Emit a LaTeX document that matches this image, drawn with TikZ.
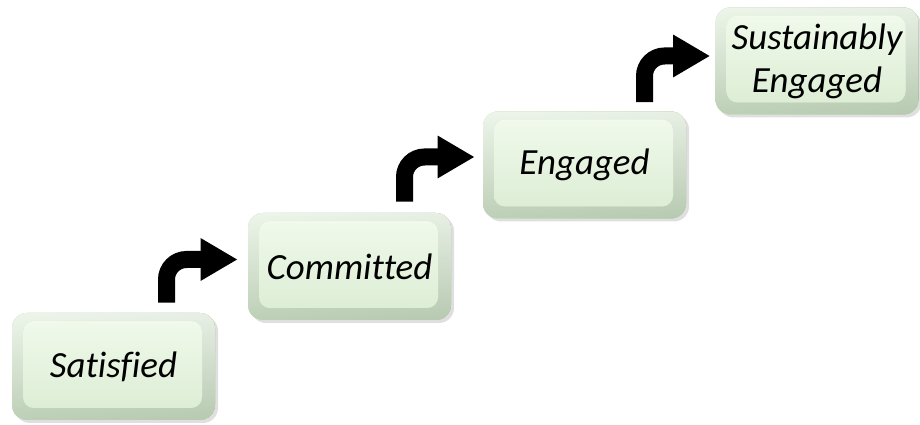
\documentclass[tikz,border=0pt]{standalone}
\usepackage{fontspec}
\setmainfont{Carlito}[Ligatures=NoCommon]
\usetikzlibrary{arrows.meta,shadows}

\definecolor{faceTop}{HTML}{F0F9EB}
\definecolor{faceBot}{HTML}{DDEED5}
\definecolor{rimLeft}{HTML}{D2E3CB}
\definecolor{rimRight}{HTML}{8A9F85}
\definecolor{rimTop}{HTML}{FAFEF8}

\tikzset{
  stepbox/.style={rounded corners=0.3cm, minimum width=4.06cm, minimum height=2.14cm,
    inner sep=0pt, align=center, fill=rimLeft,
    font=\fontsize{21}{24.5}\selectfont\itshape,
    drop shadow={opacity=0.25, shadow xshift=0.06cm, shadow yshift=-0.06cm},
    path picture={
      % darker rim towards the right and bottom
      \fill[left color=rimLeft, right color=rimRight]
        (path picture bounding box.south west) rectangle (path picture bounding box.north east);
      \fill[top color=rimTop, bottom color=rimLeft!60!rimRight, opacity=0.7]
        (path picture bounding box.south west) rectangle (path picture bounding box.north east);
      \fill[rounded corners=0.22cm, top color=faceTop, bottom color=faceBot]
        ([shift={(0.22cm,-0.16cm)}]path picture bounding box.north west) rectangle
        ([shift={(-0.26cm,0.24cm)}]path picture bounding box.south east);
    }},
  stairarrow/.style={line width=0.34cm, rounded corners=0.4cm,
    -{Triangle[width=0.8cm,length=0.74cm]}}
}

\begin{document}
\begin{tikzpicture}
    \useasboundingbox (0,0) rectangle (18.4,8.5);

    % the four steps
    \node[stepbox] (sat) at (2.27,1.17) {Satisfied};
    \node[stepbox] (com) at (6.99,3.17) {Committed};
    \node[stepbox] (eng) at (11.69,5.2) {Engaged};
    \node[stepbox] (sus) at (16.34,7.28) {Sustainably\\Engaged};

    % turn arrows between them
    \draw[stairarrow] ([xshift=1.06cm,yshift=0.2cm]sat.north) |- ([xshift=-0.2cm,yshift=0.14cm]com.west);
    \draw[stairarrow] ([xshift=1.1cm,yshift=0.22cm]com.north) |- ([xshift=-0.16cm,yshift=0.16cm]eng.west);
    \draw[stairarrow] ([xshift=1.2cm,yshift=0.18cm]eng.north) |- ([xshift=-0.1cm,yshift=0.1cm]sus.west);
\end{tikzpicture}
\end{document}
